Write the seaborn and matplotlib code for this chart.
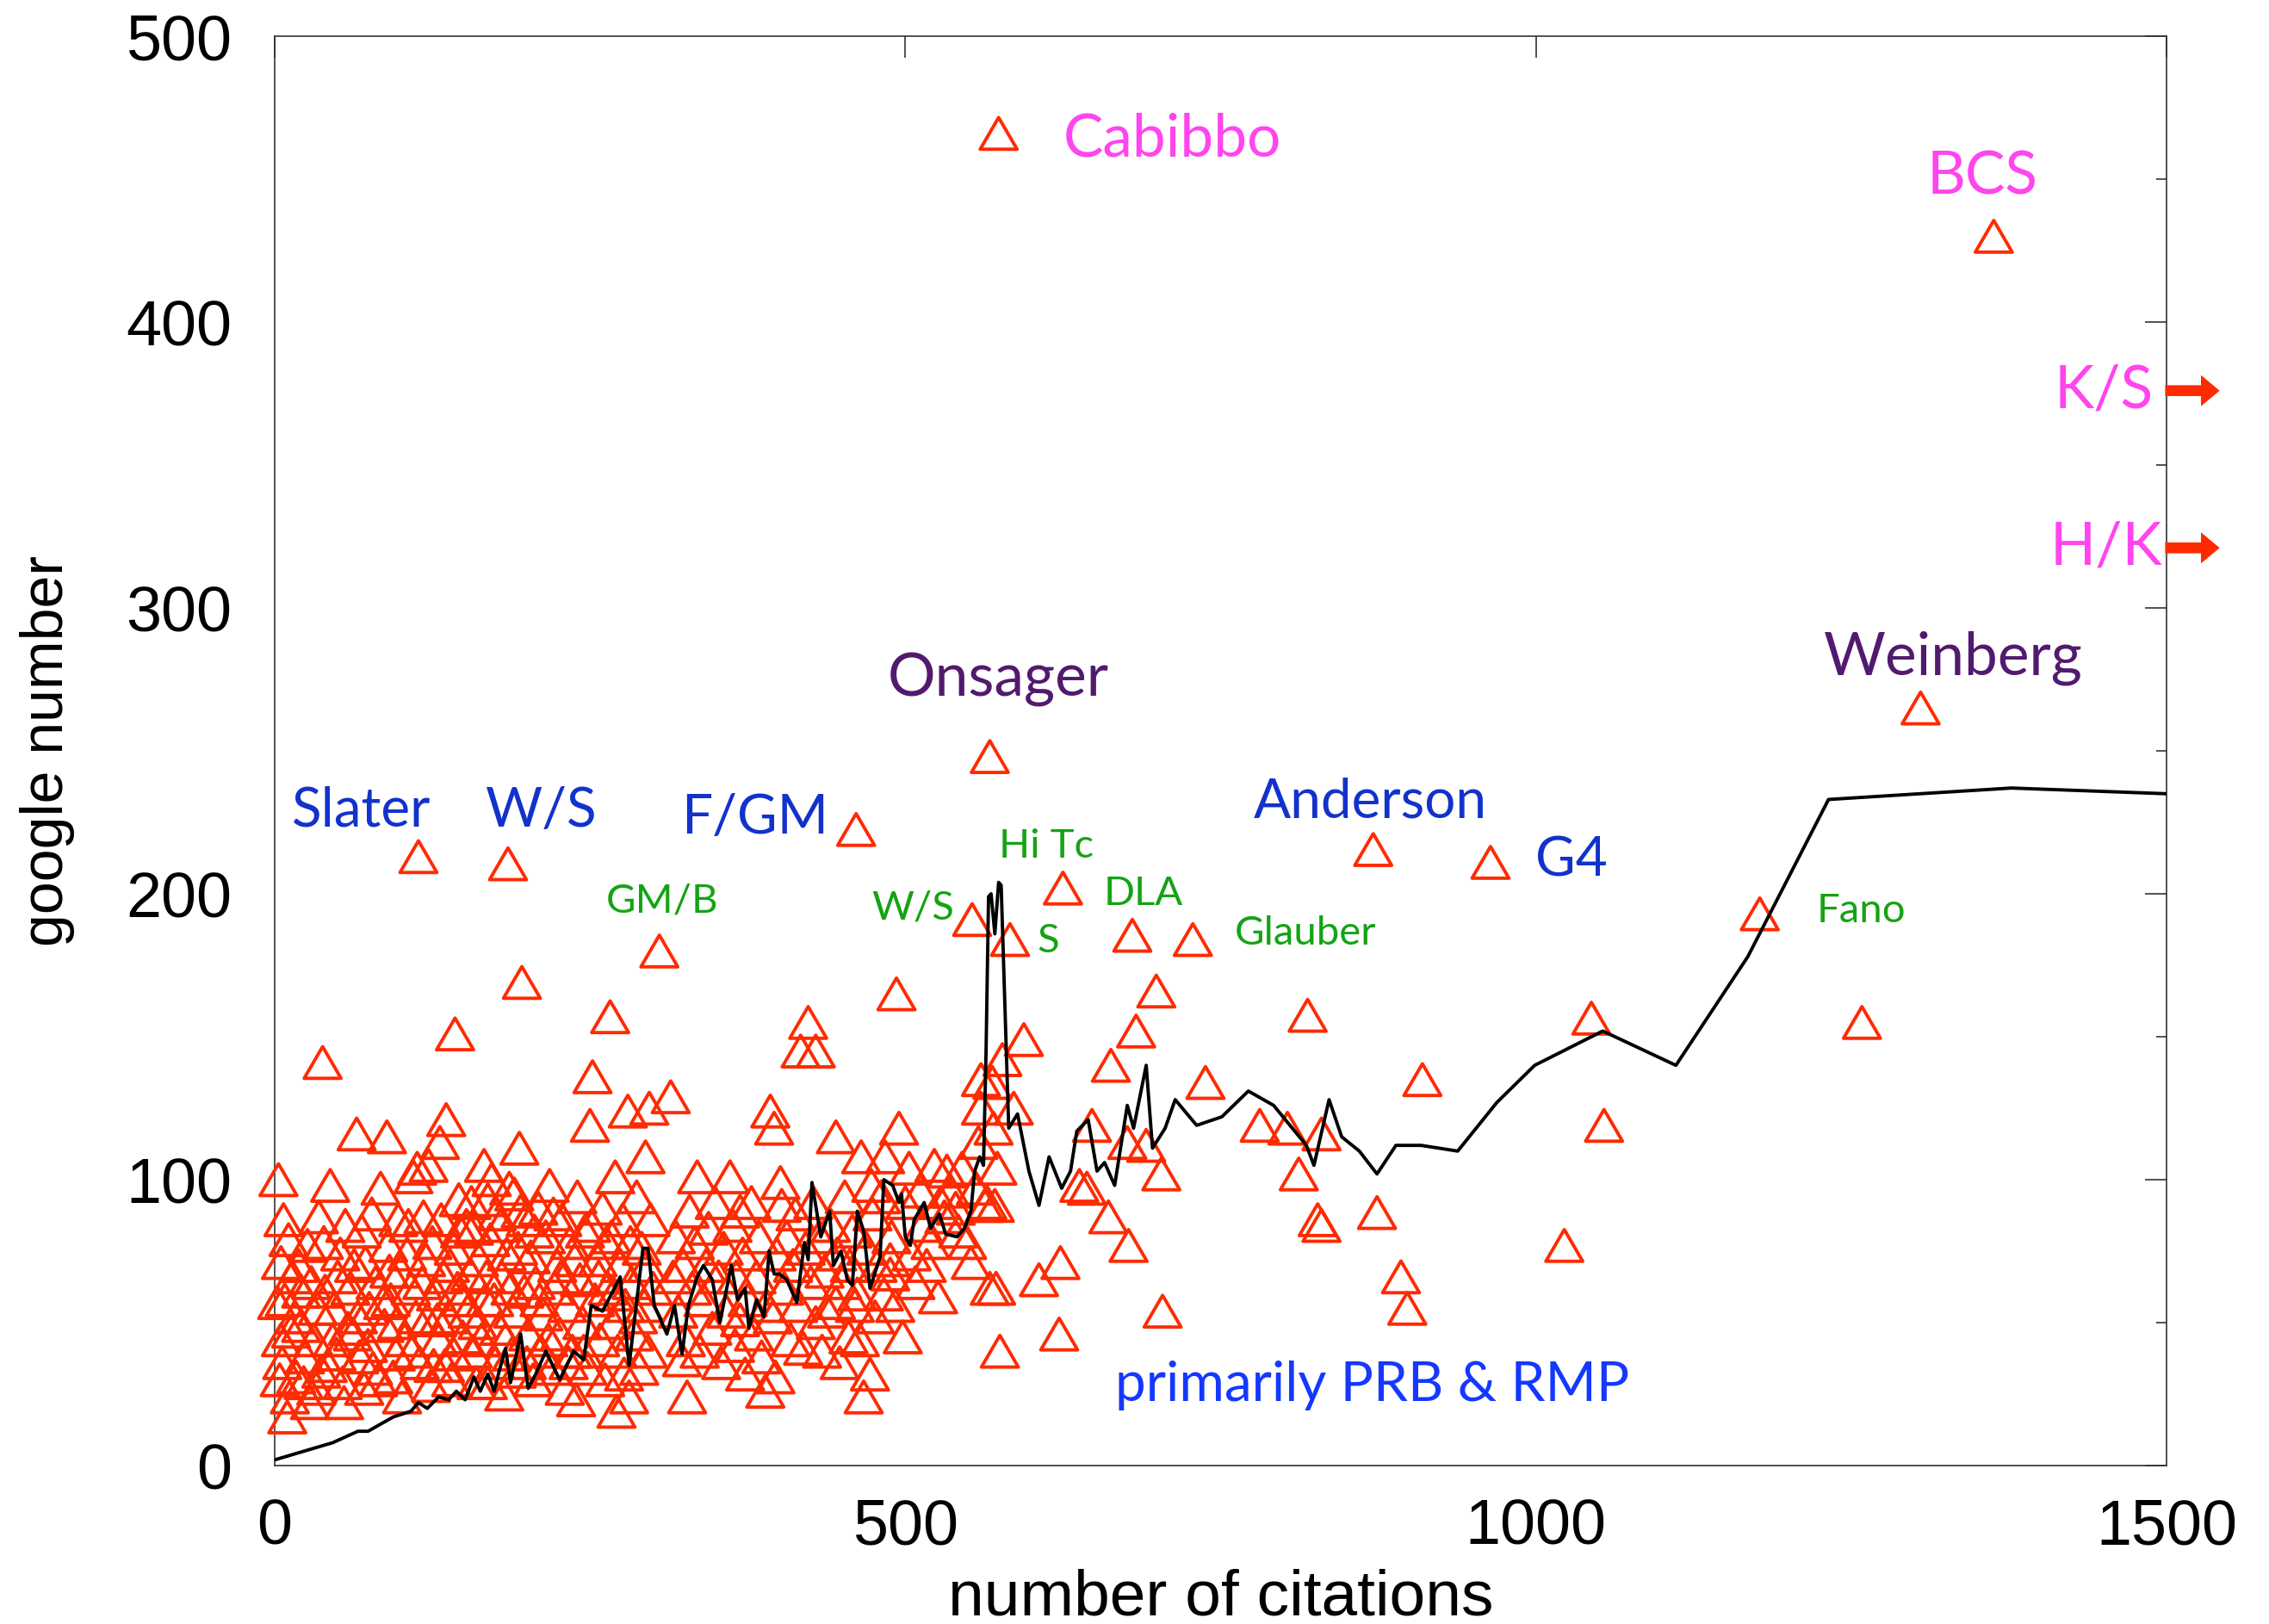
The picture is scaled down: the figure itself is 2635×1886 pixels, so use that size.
import matplotlib
matplotlib.use("Agg")
import matplotlib.pyplot as plt
from matplotlib.markers import MarkerStyle
from matplotlib.path import Path
import seaborn as sns
import pandas as pd

# ---------------- data ----------------
# labelled papers (citations, google number)
labeled_papers = [(574, 466), (1363, 430), (1305, 265), (567, 248), (114, 213),
                  (185, 210.5), (461, 222.5), (305, 180), (871, 215.5), (964, 211),
                  (625, 202), (553, 191), (583, 184), (680, 185.5), (728, 184),
                  (1177.5, 193)]

papers_low = [(3, 100), (7, 86), (5, 71), (8, 58), (5, 44), (10, 17), (4, 30), (12, 24),
              (14, 66), (17, 31), (16, 52), (21, 61), (21, 49), (24, 38), (26, 77), (28, 22),
              (33, 27), (34, 55), (35, 87), (38, 141), (39, 78), (42, 35), (44, 98), (46, 44),
              (47, 55), (50, 66), (52, 74), (54, 29), (55, 22), (58, 48), (60, 62), (62, 46),
              (65, 116), (67, 38), (69, 82), (71, 27), (72, 71), (75, 55), (78, 34), (80, 64),
              (84, 97), (87, 49), (89, 115), (90, 77), (92, 58), (94, 31), (96, 39), (98, 86),
              (100, 68), (103, 44), (105, 74), (108, 62), (110, 101), (112, 52), (113, 104), (115, 36),
              (118, 87), (120, 72), (121, 51), (122, 105), (124, 28), (126, 35), (128, 60), (130, 44),
              (131, 113), (132, 86), (134, 66), (136, 121), (138, 52), (140, 30), (142, 76), (142, 39),
              (143, 151), (146, 93), (148, 58), (149, 45),
              (2, 57), (6, 36), (11, 79), (13, 47), (19, 70), (23, 29), (29, 64), (31, 44),
              (37, 33), (40, 61), (49, 39), (56, 84), (63, 70), (66, 52), (74, 42), (77, 88),
              (82, 30), (86, 57), (91, 68), (97, 50), (101, 24), (106, 84), (109, 40), (117, 64),
              (125, 78), (129, 51), (135, 35), (139, 70), (145, 62), (147, 82)]

papers_mid = [(152, 84), (153, 54), (155, 67), (157, 40), (158, 83), (160, 29), (162, 72), (164, 44),
              (166, 105), (167, 58), (169, 93), (169, 29), (171, 79), (172, 100), (174, 58), (175, 36),
              (178, 48), (179, 84), (180, 66), (182, 25), (184, 74), (186, 97), (188, 39), (189, 54),
              (190, 95), (192, 33), (194, 111), (195, 89), (196, 169), (198, 61), (199, 86), (201, 46),
              (203, 73), (205, 30), (207, 64), (209, 90), (211, 40), (213, 53), (215, 80), (218, 98),
              (220, 34), (222, 62), (224, 70), (226, 46), (228, 86), (230, 27), (232, 56), (234, 78),
              (236, 40), (239, 23), (240, 94), (242, 65), (244, 50), (246, 82), (248, 34), (250, 119),
              (252, 136), (254, 58), (256, 72), (258, 44), (260, 90), (262, 30), (264, 62), (266, 157),
              (267, 80), (268, 50), (270, 101), (271, 19), (272, 40), (274, 70), (276, 86), (278, 56),
              (280, 124), (281, 24), (283, 64), (285, 46), (287, 94), (289, 34), (291, 76), (293, 56),
              (294, 108), (296, 40), (297, 125), (298, 86), (300, 62),
              (156, 92), (161, 50), (168, 66), (176, 88), (183, 44), (187, 62), (193, 76), (200, 36),
              (206, 82), (210, 58), (217, 44), (221, 88), (227, 66), (233, 36), (238, 72), (245, 40),
              (251, 84), (257, 66), (263, 78), (269, 60), (277, 32), (282, 78), (288, 52), (295, 70)]

papers_high = [(314, 129), (323, 37), (327, 24), (329, 89), (335, 101), (344, 83), (361, 101), (369, 89),
               (369, 51), (393, 124), (396, 118), (397, 31), (389, 26), (395, 52), (401, 99), (402, 91),
               (417, 145), (419, 41), (423, 155), (429, 145), (429, 50), (445, 115), (445, 57), (455, 45),
               (460, 56), (465, 108), (467, 24), (472, 32), (473, 98), (483, 60), (484, 108), (488, 67),
               (488, 72), (493, 165), (495, 118), (498, 45), (503, 104), (514, 84), (523, 105), (526, 59),
               (531, 87), (533, 103), (542, 82), (552, 71), (560, 135), (560, 125), (563, 91), (567, 62),
               (316, 66), (318, 80), (320, 54), (324, 70), (326, 44), (331, 62), (333, 78), (337, 40),
               (340, 58), (342, 70), (347, 48), (349, 92), (352, 66), (354, 36), (356, 76), (358, 54),
               (363, 84), (365, 42), (366, 66), (371, 74), (373, 32), (375, 58), (378, 92), (380, 46),
               (382, 66), (384, 80), (386, 38), (390, 56), (398, 74), (404, 62), (406, 80), (409, 44),
               (411, 70), (413, 88), (415, 56), (421, 76), (425, 64), (427, 92), (432, 80), (434, 40),
               (436, 68), (438, 54), (441, 84), (446, 74), (448, 36), (450, 64), (452, 94), (456, 70),
               (458, 82), (462, 60), (464, 44), (469, 76), (474, 88), (476, 52), (478, 70), (481, 94),
               (489, 80), (492, 56), (500, 92), (505, 74), (508, 64), (512, 96), (517, 70), (520, 78),
               (528, 92), (536, 96), (540, 90), (545, 104), (549, 78), (556, 97), (558, 113), (565, 92),
               (570, 118), (573, 104)]

papers_tail = [(569, 134), (571, 91), (572, 62), (575, 40), (577, 142), (586, 125), (594, 149), (606, 65),
               (622, 46), (623, 71), (638, 98), (644, 97), (648, 119), (661, 87), (663, 140), (676, 113),
               (677, 77), (683, 152), (691, 112), (699, 166), (703, 102), (704, 54), (738, 134), (781, 119),
               (803, 118), (812, 102), (819, 157.5), (827, 86), (830, 84), (830, 116), (874, 88.5), (893, 66),
               (898, 55), (910, 135), (1022.5, 77), (1044, 156.5), (1054, 119), (1258.5, 155)]

avg_cites = [0, 23, 46, 66, 74, 94, 108, 114, 121, 130, 138, 144, 151, 158, 163, 169, 174, 178, 183, 187,
             195, 201, 207, 215, 226, 237, 245, 251, 260, 274, 281, 292, 296, 301, 311, 317, 323, 328, 335,
             340, 347, 353, 362, 367, 373, 376, 382, 388, 392, 396, 400, 406, 414, 420, 423, 426, 433, 440,
             443, 449, 454, 458, 462, 467, 472, 480, 483, 490, 495, 497, 500, 504, 507, 515, 520, 527, 532,
             541, 547, 552, 555, 559, 562, 564, 566, 568, 571, 574, 576, 579, 582, 589, 598, 606, 614, 624,
             631, 636, 645, 652, 658, 666, 676, 681, 691, 696, 706, 714, 731, 751, 772, 792, 818, 824, 836,
             846, 860, 874, 889, 909, 938, 969, 999, 1053, 1111, 1168, 1232, 1377, 1500]
avg_google = [2, 5, 8, 12, 12, 17, 19, 22, 20, 24, 23, 26, 23, 31, 26, 32, 26, 33, 41, 29,
              46, 27, 32, 40, 30, 40, 37, 56, 54, 66, 35, 76, 76, 56, 46, 56, 39, 56, 66,
              70, 65, 50, 70, 58, 62, 48, 58, 52, 75, 67, 67, 65, 57, 78, 72, 99, 80, 89,
              70, 75, 65, 63, 89, 82, 62, 73, 100, 98, 92, 95, 80, 77, 86, 92, 83, 88, 81,
              80, 83, 89, 103, 108, 105, 144, 199, 200, 186, 204, 203, 160, 118, 123, 103, 91, 108, 97,
              103, 117, 121, 103, 106, 98, 126, 118, 140, 111, 118, 128, 119, 122, 131, 126, 112, 105, 128,
              115, 110, 102, 112, 112, 110, 127, 140, 152, 140, 178, 233, 237, 235]

# annotations
label_texts = ["Cabibbo", "BCS", "K/S", "H/K", "Weinberg", "Onsager", "Slater", "W/S", "F/GM",
               "Anderson", "G4", "primarily PRB & RMP", "GM/B", "W/S", "Hi Tc", "S", "DLA",
               "Glauber", "Fano"]
label_x = [711.5, 1354, 1450, 1452, 1331, 574, 69, 211, 381, 869, 1028, 870, 307.5, 506, 612, 613,
           689, 817, 1258]
label_y = [464, 450.5, 376, 321, 282.5, 275, 229, 229, 226.5, 232, 211.5, 28, 197.5, 195, 216.5,
           183.5, 200, 186, 194]
label_kind = ["mag", "mag", "mag", "mag", "pur", "pur", "blue", "blue", "blue", "blue", "blue",
              "blue2", "green", "green", "green", "green", "green", "green", "green"]
offscale_y = [376, 321]  # K/S and H/K beyond the x range

# ---------------- styling ----------------
sns.set_style("white")
plt.rcParams['font.family'] = ['Liberation Sans', 'DejaVu Sans']

RED = "#ff2a00"
kind_color = {"mag": "#ff45ee", "pur": "#521a6e", "blue": "#1232cc", "blue2": "#1438ff",
              "green": "#14a314"}
kind_size = {"mag": 50, "pur": 50, "blue": 46, "blue2": 46, "green": 34}

fig = plt.figure(figsize=(26.35, 18.86), dpi=100)
ax = fig.add_axes([0.12106, 0.09756, 0.83378, 0.88017])

all_pts = labeled_papers + papers_low + papers_mid + papers_high + papers_tail
df = pd.DataFrame(all_pts, columns=["cites", "google"])
tri_path = Path([(-1, -0.86), (1, -0.86), (0, 0.86), (-1, -0.86)],
                [Path.MOVETO, Path.LINETO, Path.LINETO, Path.CLOSEPOLY])
tri = MarkerStyle(tri_path)
sns.scatterplot(data=df, x="cites", y="google", marker=tri, s=950, facecolor="none",
                edgecolor=RED, linewidth=2.8, ax=ax, clip_on=False, zorder=3)

line_df = pd.DataFrame({"cites": avg_cites, "google": avg_google})
sns.lineplot(data=line_df, x="cites", y="google", color="black", linewidth=2.8, sort=False,
             estimator=None, ax=ax, zorder=4)

for t, x, y, k in zip(label_texts, label_x, label_y, label_kind):
    ax.text(x, y, t, ha="center", va="center", fontsize=kind_size[k], color=kind_color[k],
            family=["Lato", "DejaVu Sans"], zorder=5)

for y in offscale_y:
    ax.annotate("", xy=(1544, y), xytext=(1497, y), annotation_clip=False,
                arrowprops=dict(arrowstyle="simple,head_length=0.6,head_width=1.0,tail_width=0.35",
                                mutation_scale=26, color=RED, lw=0))

ax.set_xlim(0, 1500)
ax.set_ylim(0, 500)
ax.set_xticks([0, 500, 1000, 1500])
ax.set_yticks([0, 100, 200, 300, 400, 500])
ax.set_yticks([50, 150, 250, 350, 450], minor=True)
ax.tick_params(which="both", direction="in", top=True, right=True, color="#333333", width=1.2,
               labelcolor="black")
ax.tick_params(which="major", length=18)
ax.tick_params(which="minor", length=9)
ax.tick_params(axis="y", which="major", labelsize=53, pad=36)
ax.tick_params(axis="x", which="major", labelsize=53, pad=27)
for sp in ax.spines.values():
    sp.set_color("#333333")
    sp.set_linewidth(1.2)

ax.set_xlabel("number of citations", fontsize=54, color="black")
ax.set_ylabel("google number", fontsize=49, color="black")
ax.xaxis.set_label_coords(0.5, -0.072)
ax.yaxis.set_label_coords(-0.120, 0.5)
ax.yaxis.label.set_va("center")

fig.savefig("out.png", dpi=100)
